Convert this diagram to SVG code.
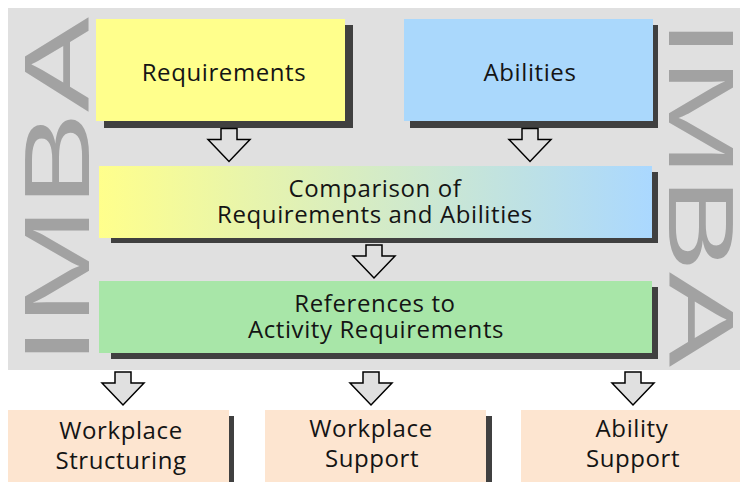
<svg xmlns="http://www.w3.org/2000/svg" width="740" height="482" viewBox="0 0 740 482">
  <defs>
    <linearGradient id="cmpGrad" x1="0" y1="0" x2="1" y2="0">
      <stop offset="0" stop-color="#ffff8c"/>
      <stop offset="1" stop-color="#aad8ff"/>
    </linearGradient>
    <!-- hollow block arrow pointing down, origin at top centre of the stem -->
    <path id="downArrow" d="M-8,0 H8 V11 H21 L0,33 L-21,11 H-8 Z"/>
  </defs>
  <style>
    .shadow { fill: #404040; }
    .lbl { font-family: "Open Sans", "Liberation Sans", sans-serif; font-size: 24px; fill: #141414; text-anchor: middle; letter-spacing: 0.6px; }
    .wm { font-family: "Liberation Sans", Arial, sans-serif; font-size: 92px; fill: #a2a2a2; }
    .arrow { fill: #e0e0e0; stroke: #000; stroke-width: 1.5; stroke-linejoin: miter; }
  </style>

  <rect width="740" height="482" fill="#ffffff"/>

  <!-- IMBA frame -->
  <g id="imba-frame">
    <rect x="8" y="8" width="732" height="362" fill="#e0e0e0"/>
    <text class="wm" transform="translate(89,365.4) rotate(-90) scale(1.55,1)">IMBA</text>
    <text class="wm" transform="translate(669,18.6) rotate(90) scale(1.55,1)">IMBA</text>
  </g>

  <g id="requirements">
    <rect class="shadow" x="104" y="25" width="249" height="103"/>
    <rect x="96" y="19" width="249" height="102" fill="#ffff8c"/>
    <text class="lbl" x="224" y="81">Requirements</text>
  </g>

  <g id="abilities">
    <rect class="shadow" x="410" y="25" width="248" height="103"/>
    <rect x="404" y="19" width="249" height="102" fill="#aad8fc"/>
    <text class="lbl" x="530" y="81">Abilities</text>
  </g>

  <g id="comparison">
    <rect class="shadow" x="111" y="172" width="547" height="71"/>
    <rect x="99" y="166" width="553" height="72" fill="url(#cmpGrad)"/>
    <text class="lbl" x="375" y="197">Comparison of</text>
    <text class="lbl" x="375" y="223">Requirements and Abilities</text>
  </g>

  <g id="references">
    <rect class="shadow" x="111" y="287" width="547" height="72"/>
    <rect x="99" y="281" width="553" height="72" fill="#a8e6a8"/>
    <text class="lbl" x="375" y="312">References to</text>
    <text class="lbl" x="376" y="338">Activity Requirements</text>
  </g>

  <g id="workplace-structuring">
    <rect class="shadow" x="14" y="416" width="220" height="72"/>
    <rect x="8" y="410" width="221" height="72" fill="#fde5d0"/>
    <text class="lbl" x="121" y="439">Workplace</text>
    <text class="lbl" x="121" y="469">Structuring</text>
  </g>

  <g id="workplace-support">
    <rect class="shadow" x="271" y="416" width="221" height="72"/>
    <rect x="265" y="410" width="221" height="72" fill="#fde5d0"/>
    <text class="lbl" x="371" y="437">Workplace</text>
    <text class="lbl" x="372" y="467">Support</text>
  </g>

  <g id="ability-support">
    <rect x="521" y="410" width="219" height="72" fill="#fde5d0"/>
    <text class="lbl" x="632" y="437">Ability</text>
    <text class="lbl" x="633" y="467">Support</text>
  </g>

  <g id="connectors">
    <use href="#downArrow" class="arrow" transform="translate(229,128.5)"/>
    <use href="#downArrow" class="arrow" transform="translate(530,128.5)"/>
    <use href="#downArrow" class="arrow" transform="translate(374,245)"/>
    <use href="#downArrow" class="arrow" transform="translate(123,372)"/>
    <use href="#downArrow" class="arrow" transform="translate(371,372)"/>
    <use href="#downArrow" class="arrow" transform="translate(633,372)"/>
  </g>
</svg>
